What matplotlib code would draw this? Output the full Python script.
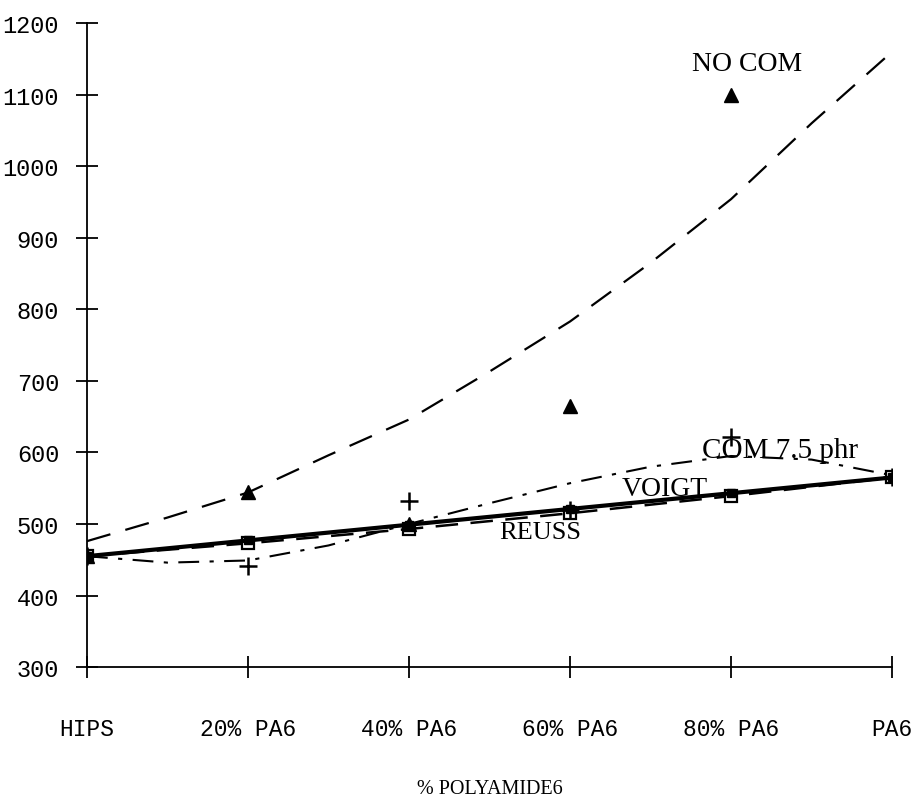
import matplotlib.pyplot as plt

categories = ["HIPS", "20% PA6", "40% PA6", "60% PA6", "80% PA6", "PA6"]
positions = [0, 1, 2, 3, 4, 5]

# measured moduli
no_com = [455, 545, 500, 665, 1100]
com_75 = [455, 441, 532, 520, 621, 565]
voigt = [455, 477, 499, 521, 543, 565]
reuss = [455, 473, 493, 515, 539, 565]

# trend curves, read at half-category steps
trend_x = [0, 0.5, 1, 1.5, 2, 2.5, 3, 3.5, 4, 4.5, 5]
no_com_trend = [476, 509, 544, 596, 646, 713, 783, 865, 954, 1060, 1160]
com_75_trend = [455, 446, 449, 470, 500, 529, 557, 580, 595, 590, 568]

fig = plt.figure(figsize=(9.15, 8.03), dpi=100)
ax = fig.add_axes([0.095, 0.168, 0.88, 0.802])

ax.plot(trend_x, no_com_trend, color="black", lw=1.6, dashes=(11, 7))
ax.plot(trend_x, com_75_trend, color="black", lw=1.5, dashes=(10, 5, 2, 5))

ax.plot(positions, reuss, color="black", lw=1.8, dashes=(9, 5),
        marker="s", markersize=8, markerfacecolor="white", markeredgewidth=1.6)
ax.plot(positions, voigt, color="black", lw=3,
        marker="s", markersize=6, markerfacecolor="black")
ax.plot(positions[:5], no_com, linestyle="none", marker="^", markersize=10, color="black")
ax.plot(positions, com_75, linestyle="none", marker="+", markersize=13,
        markeredgewidth=1.8, color="black")

serif = "Liberation Serif"
ax.text(4.1, 1134, "NO COM", fontsize=20, family=serif, ha="center")
ax.text(3.82, 593, "COM 7.5 phr", fontsize=21, family=serif)
ax.text(3.32, 540, "VOIGT", fontsize=20, family=serif)
ax.text(2.56, 480, "REUSS", fontsize=19, family=serif)

ax.set_xlim(0, 5)
ax.set_ylim(300, 1200)
ax.set_xticks(positions)
ax.set_xticklabels(categories, family="Liberation Mono", fontsize=16.5)
ax.set_yticks(range(300, 1201, 100))
ax.set_yticklabels([str(v) for v in range(300, 1201, 100)],
                   family="Liberation Mono", fontsize=17)
ax.tick_params(axis="both", direction="inout", length=16, width=1.3)
ax.tick_params(axis="x", pad=28)
ax.tick_params(axis="y", pad=12)

for side in ("top", "right"):
    ax.spines[side].set_visible(False)
for side in ("left", "bottom"):
    ax.spines[side].set_linewidth(1.3)
ax.spines["left"].set_bounds(300, 1200)

ax.set_xlabel("% POLYAMIDE6", family=serif, fontsize=14.5, labelpad=28)

fig.savefig("out.png", dpi=100)
